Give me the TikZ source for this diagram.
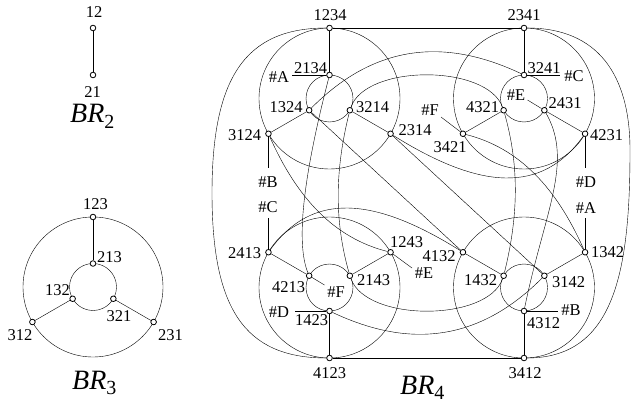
\documentclass[tikz,border=0pt]{standalone}
\usepackage{fontspec}
\setmainfont{Liberation Serif}
\usetikzlibrary{backgrounds}
\begin{document}
\begin{tikzpicture}[x=1pt,y=-1pt,
  vtx/.style={circle,draw,fill=white,inner sep=0pt,minimum size=5.6pt,line width=0.8pt},
  lbl/.style={inner sep=0pt,font=\fontsize{16.5}{18}\selectfont},
  edge/.style={line width=0.9pt},
  title/.style={inner sep=0pt,anchor=base west,font=\fontsize{28}{30}\selectfont\itshape}]
\useasboundingbox (0,0) rectangle (631,403);

% ---------- BR_2 ----------
\node[vtx] (v12) at (93,28) {};
\node[vtx] (v21) at (93,75) {};
\node[lbl] (t12) at (94,12) {12};
\node[lbl] (t21) at (92.5,92) {21};
\node[title] (tBR2) at (70,123) {BR\raisebox{-5.5pt}{\upshape\fontsize{20}{22}\selectfont 2}};

% ---------- BR_3 ----------
\coordinate (c3) at (93,287);
\node[vtx] (v123) at (93,217) {};
\node[vtx] (v312) at (32.38,322) {};
\node[vtx] (v231) at (153.62,322) {};
\node[vtx] (v213) at (93,263.5) {};
\node[vtx] (v132) at (72.65,298.75) {};
\node[vtx] (v321) at (113.35,298.75) {};
\node[lbl] (t123) at (95.5,204) {123};
\node[lbl] (t213) at (109.5,257) {213};
\node[lbl] (t132) at (57.5,290) {132};
\node[lbl] (t321) at (119,316) {321};
\node[lbl] (t312) at (20,335) {312};
\node[lbl] (t231) at (170.5,335) {231};
\node[title] (tBR3) at (72,389) {BR\raisebox{-5.5pt}{\upshape\fontsize{20}{22}\selectfont 3}};

% ---------- BR_4 : four copies of BR_3 ----------
\coordinate (cTL) at (329.5,98.5);
\coordinate (cTR) at (524,98.5);
\coordinate (cBL) at (329.5,287.5);
\coordinate (cBR) at (524,287.5);

% top left copy
\node[vtx] (v1234) at (329.5,28) {};
\node[vtx] (v3124) at (268.45,133.75) {};
\node[vtx] (v2314) at (390.55,133.75) {};
\node[vtx] (v2134) at (329.5,75) {};
\node[vtx] (v1324) at (309.15,110.25) {};
\node[vtx] (v3214) at (349.85,110.25) {};
% top right copy
\node[vtx] (v2341) at (524,28) {};
\node[vtx] (v3421) at (462.95,133.75) {};
\node[vtx] (v4231) at (585.05,133.75) {};
\node[vtx] (v3241) at (524,75) {};
\node[vtx] (v4321) at (503.65,110.25) {};
\node[vtx] (v2431) at (544.35,110.25) {};
% bottom left copy
\node[vtx] (v4123) at (329.5,358) {};
\node[vtx] (v2413) at (268.45,252.25) {};
\node[vtx] (v1243) at (390.55,252.25) {};
\node[vtx] (v1423) at (329.5,311) {};
\node[vtx] (v4213) at (309.15,275.75) {};
\node[vtx] (v2143) at (349.85,275.75) {};
% bottom right copy
\node[vtx] (v3412) at (524,358) {};
\node[vtx] (v4132) at (462.95,252.25) {};
\node[vtx] (v1342) at (585.05,252.25) {};
\node[vtx] (v4312) at (524,311) {};
\node[vtx] (v1432) at (503.65,275.75) {};
\node[vtx] (v3142) at (544.35,275.75) {};

% free ends of the labelled half-edges
\coordinate (sA1) at (292,75);
\coordinate (sA2) at (585.05,218);
\coordinate (sB1) at (268.45,168);
\coordinate (sB2) at (558,311);
\coordinate (sC1) at (560,75);
\coordinate (sC2) at (268.45,218);
\coordinate (sD1) at (295,311);
\coordinate (sD2) at (585.05,168);
\coordinate (sE1) at (527.5,100);
\coordinate (sE2) at (412,268);
\coordinate (sF1) at (441,117);
\coordinate (sF2) at (324.5,285);

% vertex labels
\node[lbl] (t1234) at (330,15) {1234};
\node[lbl] (t2341) at (524,15) {2341};
\node[lbl] (t2134) at (310.5,68) {2134};
\node[lbl] (tA1) at (279,77) {\#A};
\node[lbl] (t1324) at (286,107) {1324};
\node[lbl] (t3214) at (372.5,107) {3214};
\node[lbl] (t3124) at (244.5,135) {3124};
\node[lbl] (t2314) at (415,130) {2314};
\node[lbl] (tB1) at (268,182) {\#B};
\node[lbl] (tC2) at (268,207) {\#C};
\node[lbl] (t3241) at (544,68) {3241};
\node[lbl] (tC1) at (574,76) {\#C};
\node[lbl] (tE1) at (516,95) {\#E};
\node[lbl] (t4321) at (482.5,107) {4321};
\node[lbl] (t2431) at (565,103) {2431};
\node[lbl] (tF1) at (430,110) {\#F};
\node[lbl] (t3421) at (450,147) {3421};
\node[lbl] (t4231) at (606.5,135) {4231};
\node[lbl] (tD2) at (586,182) {\#D};
\node[lbl] (tA2) at (586,208) {\#A};
\node[lbl] (t2413) at (244.5,253) {2413};
\node[lbl] (t1243) at (406.5,242) {1243};
\node[lbl] (t4132) at (439,256) {4132};
\node[lbl] (tE2) at (424,273) {\#E};
\node[lbl] (t4213) at (288.5,287) {4213};
\node[lbl] (t2143) at (373.5,280) {2143};
\node[lbl] (tF2) at (336,292) {\#F};
\node[lbl] (tD1) at (279,312) {\#D};
\node[lbl] (t1423) at (311.5,320) {1423};
\node[lbl] (t4123) at (329.5,373) {4123};
\node[lbl] (t1432) at (480.5,280) {1432};
\node[lbl] (t3142) at (568.5,282) {3142};
\node[lbl] (t1342) at (607.5,252) {1342};
\node[lbl] (t4312) at (543.5,323) {4312};
\node[lbl] (tB2) at (571,310) {\#B};
\node[lbl] (t3412) at (525,373) {3412};
\node[title] (tBR4) at (400,394) {BR\raisebox{-5pt}{\upshape\fontsize{20}{22}\selectfont 4}};

\begin{scope}[on background layer, edge]
  % BR_2
  \draw (v12) -- (v21);
  % BR_3
  \draw (c3) circle[radius=70pt];
  \draw (c3) circle[radius=23.5pt];
  \draw (v123) -- (v213);
  \draw (v312) -- (v132);
  \draw (v231) -- (v321);

  % BR_4: the four rings and their spokes
  \foreach \c in {cTL,cTR,cBL,cBR} {
    \draw (\c) circle[radius=70.5pt];
    \draw (\c) circle[radius=23.5pt];
  }
  \draw (v1234) -- (v2134);
  \draw (v3124) -- (v1324);
  \draw (v2314) -- (v3214);
  \draw (v2341) -- (v3241);
  \draw (v3421) -- (v4321);
  \draw (v4231) -- (v2431);
  \draw (v4123) -- (v1423);
  \draw (v2413) -- (v4213);
  \draw (v1243) -- (v2143);
  \draw (v3412) -- (v4312);
  \draw (v4132) -- (v1432);
  \draw (v1342) -- (v3142);

  % outer 4-cycle
  \draw (v1234) -- (v2341);
  \draw (v4123) -- (v3412);
  \draw (v1234) .. controls (245,28) and (212,78) .. (212,193)
                .. controls (212,308) and (244,358) .. (v4123);
  \draw (v2341) .. controls (598,28) and (630,75) .. (630,150)
                .. controls (630,270) and (615,358) .. (v3412);

  % connecting edges between the copies
  \draw (v1324) .. controls (380,39) and (452,41) .. (v3241);
  \draw (v3142) .. controls (473.5,347) and (401.5,345) .. (v1423);
  \draw (v3214) .. controls (366,64) and (487,64) .. (v4321);
  \draw (v2143) .. controls (366.5,322) and (487.5,322) .. (v1432);
  \draw (v1324) -- (v4132);
  \draw (v2314) -- (v3142);
  \draw (v3124) .. controls (297,198) and (334,238) .. (v1243);
  \draw (v1342) .. controls (556.5,188) and (519.5,148) .. (v3421);
  \draw (v2134) .. controls (307,162) and (294,239) .. (v4213);
  \draw (v2431) .. controls (574,162) and (544,213) .. (v4312);
  \draw (v3214) .. controls (335.6,168) and (333.6,218.4) .. (v2143);
  \draw (v4321) .. controls (519.9,167.6) and (517.9,218) .. (v1432);
  \draw (v2413) .. controls (312,192) and (373,196) .. (v4132);
  \draw (v4231) .. controls (541.5,194) and (480.5,190) .. (v2314);

  % labelled half-edges
  \draw (v2134) -- (sA1);
  \draw (v1342) -- (sA2);
  \draw (v3124) -- (sB1);
  \draw (v4312) -- (sB2);
  \draw (v3241) -- (sC1);
  \draw (v2413) -- (sC2);
  \draw (v1423) -- (sD1);
  \draw (v4231) -- (sD2);
  \draw (v2431) -- (sE1);
  \draw (v1243) -- (sE2);
  \draw (v3421) -- (sF1);
  \draw (v4213) -- (sF2);
\end{scope}
\end{tikzpicture}
\end{document}
